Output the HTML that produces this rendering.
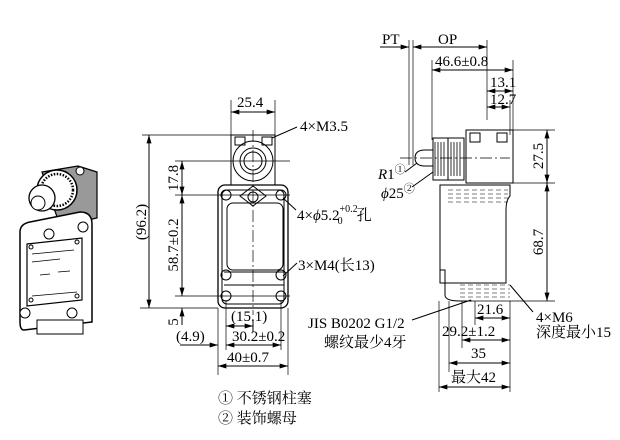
<!DOCTYPE html>
<html><head><meta charset="utf-8"><style>
html,body{margin:0;padding:0;background:#fff}
svg{display:block}
text{font-family:"Liberation Serif","Noto Serif CJK SC",serif;font-size:15px;fill:#000}
</style></head><body>
<svg width="620" height="440" viewBox="0 0 620 440" xmlns="http://www.w3.org/2000/svg">
<defs>
<marker id="a" viewBox="0 0 10 6" refX="10" refY="3" markerWidth="9" markerHeight="5" orient="auto-start-reverse" markerUnits="userSpaceOnUse"><path d="M0,0L10,3L0,6z" fill="#000"/></marker>
</defs>
<g stroke="#000" fill="none" stroke-width="1">
<!-- photo -->
<path d="M42 172L78 166L97 172V218L60 226z" fill="#999" stroke-width="1.2"/>
<circle cx="80" cy="171" r="4" fill="#fff"/>
<path d="M30 222L60 216L80 212Q92 212 92 224V322L24 330Q20 330 20 322V232Q20 224 30 222z" fill="#fff" stroke-width="1.5"/>
<path d="M27 244L82 238V300L27 306z" fill="#fff" stroke-width="1.2"/>
<path d="M32 254l42-4M32 262l28-3M32 296l45-4M40 275l10-1M58 272l12-1" stroke-width="0.8"/>
<circle cx="31" cy="247" r="2"/><circle cx="77" cy="242" r="2"/><circle cx="31" cy="300" r="2"/><circle cx="77" cy="296" r="2"/>
<circle cx="57" cy="190" r="20" fill="#fff" stroke-width="1.5"/>
<circle cx="57" cy="190" r="16" fill="none" stroke-dasharray="1.5 1.5" stroke-width="2.5"/>
<circle cx="42" cy="198" r="13" fill="#fff" stroke-width="1.3"/>
<circle cx="38" cy="203" r="7" fill="#fff"/>
<circle cx="49" cy="234" r="5" fill="#fff"/>
<circle cx="83" cy="227" r="5" fill="#fff"/>
<circle cx="25" cy="313" r="5" fill="#fff"/>
<circle cx="72" cy="313" r="5" fill="#fff"/>
<rect x="37" y="320" width="46" height="14" fill="#fff"/>
<!-- front view -->
<rect x="231" y="135" width="44" height="50"/>
<rect x="235" y="137" width="10" height="8"/><rect x="262" y="137" width="10" height="8"/>
<circle cx="253" cy="161" r="20"/><circle cx="253" cy="161" r="13"/><circle cx="253" cy="161" r="9"/>
<rect x="218" y="185" width="70" height="123" rx="7" stroke-width="1.3"/>
<rect x="222" y="190" width="62" height="114" rx="5"/>
<rect x="227" y="203" width="56" height="67" rx="6"/>
<path d="M224 272h60M224 285h60"/>
<circle cx="226" cy="195" r="5"/><circle cx="281" cy="195" r="5"/><circle cx="253" cy="197" r="5"/>
<path d="M240 196l13-10 13 10-13 10z"/>
<circle cx="226" cy="275" r="5"/><circle cx="281" cy="275" r="5"/>
<circle cx="226" cy="296" r="5"/><circle cx="281" cy="296" r="5"/>
<path d="M253 130V315" stroke-dasharray="12 3 2 3" stroke-width="0.7"/>
<path d="M142 135H235M175 161H290M175 195H290M175 296H290M140 308H218" stroke-width="0.7"/>
<path d="M231 100V135M275 100V135" stroke-width="0.7"/>
<path d="M231 112H275" marker-start="url(#a)" marker-end="url(#a)"/>
<path d="M149 135V308" marker-start="url(#a)" marker-end="url(#a)"/>
<path d="M182 161V195" marker-start="url(#a)" marker-end="url(#a)"/>
<path d="M182 195V296" marker-start="url(#a)" marker-end="url(#a)"/>
<path d="M182 325V308" marker-end="url(#a)"/>
<path d="M226 300V350M281 300V350M218 308V375M288 308V375" stroke-width="0.7"/>
<path d="M226 326H253" marker-start="url(#a)" marker-end="url(#a)"/>
<path d="M253 320V332"/>
<path d="M180 345H218" marker-end="url(#a)"/>
<path d="M226 345H281" marker-start="url(#a)" marker-end="url(#a)"/>
<path d="M218 366H288" marker-start="url(#a)" marker-end="url(#a)"/>
<path d="M272 138L297 127M283 198L296 210M283 276L297 263"/>
<!-- side view -->
<path d="M409 40V165M413 40V165M432 60V140M487 40V120M513 60V135M510 100V135" stroke-width="0.7"/>
<path d="M380 47H409" marker-end="url(#a)"/><path d="M413 47H487" marker-start="url(#a)" marker-end="url(#a)"/>
<path d="M432 70H513" marker-start="url(#a)" marker-end="url(#a)"/>
<path d="M487 91H513" marker-start="url(#a)" marker-end="url(#a)"/>
<path d="M487 107H510" marker-start="url(#a)" marker-end="url(#a)"/>
<rect x="466" y="130" width="47" height="53"/>
<rect x="470" y="133" width="10" height="9"/><rect x="497" y="133" width="10" height="9"/>
<rect x="433" y="138" width="16" height="42" fill="#fff"/>
<rect x="448" y="138" width="16" height="42" fill="#fff"/>
<path d="M435 142V176M438 142V176M441 142V176M444 142V176M451 142V176M454 142V176M457 142V176M460 142V176" stroke-width="0.8"/>
<path d="M425 150H433V166H425Q415 166 415 158Q415 150 425 150z"/>
<path d="M400 158H510" stroke-dasharray="12 3 2 3" stroke-width="0.7"/>
<path d="M440 185H510V196Q506 200 506 210V283H440z"/>
<path d="M440 185V270h5V295Q445 301 460 301H472" />
<path d="M448 190h60M448 194h60M448 198h60M448 202h60" stroke-dasharray="5 3" stroke-width="0.6"/>
<path d="M460 285h50M460 289h50M460 293h50M460 297h50" stroke-dasharray="5 3" stroke-width="0.6"/>
<path d="M498 130H555M490 183H555M470 301H555" stroke-width="0.7"/>
<path d="M547 130V183" marker-start="url(#a)" marker-end="url(#a)"/>
<path d="M547 183V301" marker-start="url(#a)" marker-end="url(#a)"/>
<path d="M439 301V392M449 301V372M462 301V348M475 301V325M510 301V392" stroke-width="0.7"/>
<path d="M475 318H510" marker-start="url(#a)" marker-end="url(#a)"/>
<path d="M462 340H510" marker-start="url(#a)" marker-end="url(#a)"/>
<path d="M449 363H510" marker-start="url(#a)" marker-end="url(#a)"/>
<path d="M439 387H510" marker-start="url(#a)" marker-end="url(#a)"/>
<path d="M412 320L471 300M433 172L412 187M417 163L405 172M510 285L533 312"/>
</g>
<g>
<text x="237" y="107">25.4</text>
<text x="300" y="131">4×M3.5</text>
<text x="297" y="220">4×<tspan font-style="italic">ϕ</tspan>5.2<tspan style="font-size:10px" dy="-8">+0.2</tspan><tspan style="font-size:10px" dx="-20" dy="12">0</tspan><tspan dx="14" dy="-4">孔</tspan></text>
<text x="298" y="270">3×M4(长13)</text>
<text x="231" y="321">(15.1)</text>
<text x="176" y="341">(4.9)</text>
<text x="232" y="341">30.2±0.2</text>
<text x="227" y="362">40±0.7</text>
<text transform="translate(146,222) rotate(-90)" text-anchor="middle">(96.2)</text>
<text transform="translate(178,178) rotate(-90)" text-anchor="middle">17.8</text>
<text transform="translate(178,245) rotate(-90)" text-anchor="middle">58.7±0.2</text>
<text transform="translate(178,322) rotate(-90)" text-anchor="middle">5</text>
<text x="382" y="44">PT</text>
<text x="438" y="44">OP</text>
<text x="435" y="66">46.6±0.8</text>
<text x="490" y="87">13.1</text>
<text x="490" y="104">12.7</text>
<text x="378" y="179"><tspan font-style="italic">R</tspan>1<tspan style="font-size:11px" dy="-6">①</tspan></text>
<text x="381" y="198"><tspan font-style="italic">ϕ</tspan>25<tspan style="font-size:11px" dy="-6">②</tspan></text>
<text transform="translate(543,156) rotate(-90)" text-anchor="middle">27.5</text>
<text transform="translate(543,242) rotate(-90)" text-anchor="middle">68.7</text>
<text x="308" y="328">JIS B0202 G1/2</text>
<text x="324" y="347">螺纹最少4牙</text>
<text x="477" y="314">21.6</text>
<text x="442" y="336">29.2±1.2</text>
<text x="471" y="358">35</text>
<text x="451" y="382">最大42</text>
<text x="536" y="322">4×M6</text>
<text x="536" y="337">深度最小15</text>
<text x="218" y="403">① 不锈钢柱塞</text>
<text x="218" y="423">② 装饰螺母</text>
</g>
</svg>
</body></html>
